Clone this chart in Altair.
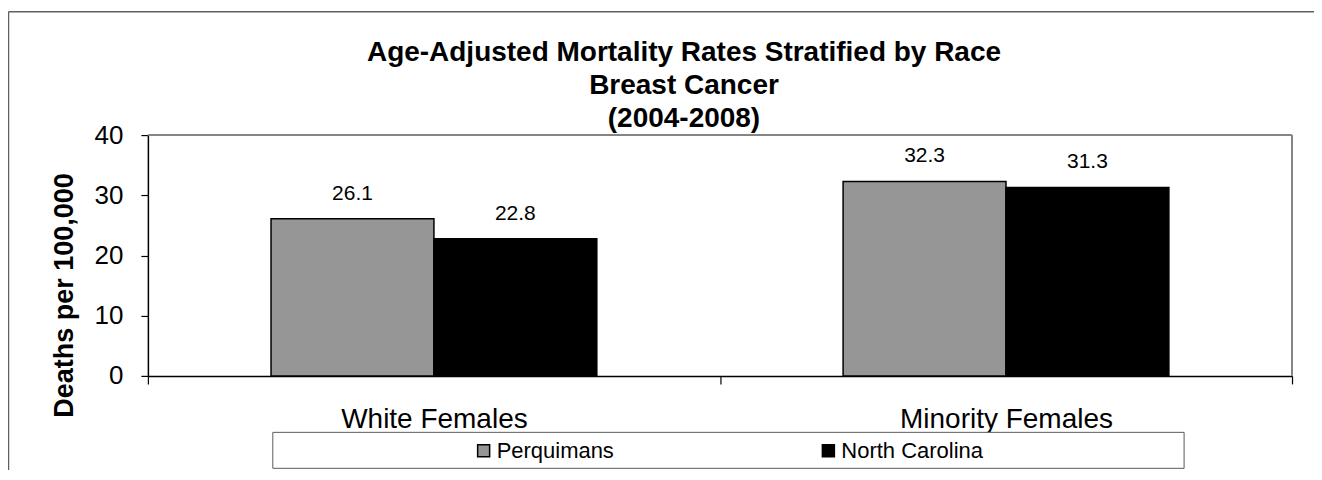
import altair as alt
import pandas as pd

categories = ["White Females", "Minority Females"]
series = ["Perquimans", "North Carolina"]
perquimans = [26.1, 32.3]
north_carolina = [22.8, 31.3]
y_ticks = [0, 10, 20, 30, 40]
title_lines = ["Age-Adjusted Mortality Rates Stratified by Race", "Breast Cancer", "(2004-2008)"]

rows = []
for i, c in enumerate(categories):
    rows.append({"cat": c, "series": series[0], "value": perquimans[i]})
    rows.append({"cat": c, "series": series[1], "value": north_carolina[i]})
df = pd.DataFrame(rows)

FONT = "Liberation Sans"
W, H = 1145, 241

x_enc = alt.X("cat:N", sort=categories,
              scale=alt.Scale(paddingInner=0, paddingOuter=0),
              axis=alt.Axis(title=None, labelAngle=0, labelFontSize=28, labelFont=FONT,
                            labelColor="black", labelPadding=22, labelLimit=0, tickSize=8,
                            tickBand="extent", domainColor="black", tickColor="black",
                            domainWidth=1.5, tickWidth=1.2))
xo_enc = alt.XOffset("series:N", sort=series,
                     scale=alt.Scale(paddingInner=0, paddingOuter=0.756))
y_enc = alt.Y("value:Q", scale=alt.Scale(domain=[0, 40], nice=False),
              axis=alt.Axis(values=y_ticks, title="Deaths per 100,000", titleFontSize=27,
                            titleFont=FONT, titleFontWeight="bold", titleColor="black",
                            titleAngle=270, titleX=-75, titleY=160, titleAlign="center",
                            titleBaseline="alphabetic",
                            labelFontSize=26, labelFont=FONT, labelColor="black",
                            labelPadding=18, tickSize=7, grid=False,
                            domainColor="black", tickColor="black", domainWidth=1.5,
                            tickWidth=1.2))

color_enc = alt.Color("series:N", sort=series,
                      scale=alt.Scale(domain=series, range=["#969696", "#000000"]),
                      legend=alt.Legend(title=None, orient="none", legendX=325, legendY=305,
                                        direction="horizontal", columns=2, columnPadding=203,
                                        padding=0, symbolType="square", symbolSize=144,
                                        symbolStrokeColor="black", symbolStrokeWidth=1.5,
                                        labelFontSize=22, labelFont=FONT, labelColor="black",
                                        labelOffset=2))

one = pd.DataFrame({"k": [0]})

outer_left = alt.Chart(one).mark_rule(color="#606060", strokeWidth=1.5).encode(
    x=alt.value(-139.5), y=alt.value(-123.5), y2=alt.value(H + 100))
outer_top = alt.Chart(one).mark_rule(color="#606060", strokeWidth=1.5).encode(
    x=alt.value(-139.5), x2=alt.value(W + 40), y=alt.value(-123.5))
plot_top = alt.Chart(one).mark_rule(color="#858585", strokeWidth=2).encode(
    x=alt.value(0), x2=alt.value(W), y=alt.value(0))
plot_right = alt.Chart(one).mark_rule(color="#858585", strokeWidth=2).encode(
    x=alt.value(W), y=alt.value(0), y2=alt.value(H))
legend_box = alt.Chart(one).mark_rect(fill="white", stroke="#5a5a5a", strokeWidth=1).encode(
    x=alt.value(125), x2=alt.value(1037), y=alt.value(297.5), y2=alt.value(333.5))

bars = alt.Chart(df).mark_bar(stroke="black", strokeWidth=1.5).encode(
    x=x_enc, xOffset=xo_enc, y=y_enc, color=color_enc)
labels = alt.Chart(df).mark_text(fontSize=21, font=FONT, color="black", dy=-25,
                                 baseline="middle").encode(
    x=alt.X("cat:N", sort=categories), xOffset=alt.XOffset("series:N", sort=series),
    y="value:Q", text=alt.Text("value:Q", format=".1f"))

chart = alt.layer(outer_left, outer_top, legend_box, bars, labels, plot_top, plot_right).properties(
    width=W, height=H,
    title=alt.TitleParams(text=title_lines, fontSize=28, font=FONT, fontWeight="bold",
                          color="black", anchor="middle", frame="group", dx=-36, dy=126,
                          lineHeight=33, offset=4),
    autosize=alt.AutoSizeParams(type="none"),
    padding={"left": 140, "top": 127, "right": 22, "bottom": 94},
).configure_view(stroke=None).configure(background="white")

chart.save("out.html", embed_options={"renderer": "svg", "actions": False})
